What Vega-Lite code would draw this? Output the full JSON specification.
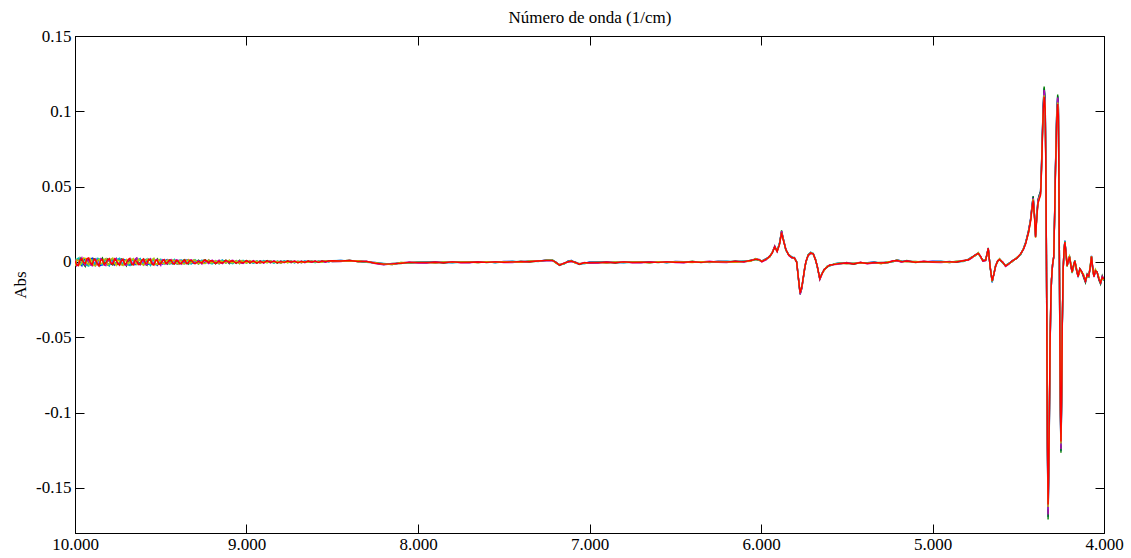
{
"$schema": "https://vega.github.io/schema/vega-lite/v6.json",
"width": 1029, "height": 497,
"autosize": "none",
"padding": {"left": 75, "top": 36, "right": 27, "bottom": 25},
"background": "white",
"config": {
  "view": {"stroke": "black", "strokeWidth": 1},
  "axis": {"grid": false, "labelFont": "Liberation Serif", "labelFontSize": 17, "labelColor": "black", "titleFont": "Liberation Serif", "titleFontSize": 17, "titleFontWeight": "normal", "titleColor": "black", "domainColor": "black", "tickColor": "black", "tickSize": -9, "labelOverlap": false, "labelFlush": false}
},
"data": {"values": [
{"x":10000,"a":-0.0020,"b":0.0024,"c":-0.0008,"d":0.0016,"e":-0.0028,"f":0.0006},
{"x":9990,"a":0.0006,"b":-0.0012,"c":0.0018,"d":-0.0026,"e":0.0014,"f":-0.0020},
{"x":9980,"a":0.0018,"b":-0.0022,"c":0.0026,"d":-0.0014,"e":0.0010,"f":-0.0024},
{"x":9970,"a":-0.0012,"b":0.0026,"c":-0.0006,"d":0.0010,"e":-0.0020,"f":0.0014},
{"x":9960,"a":-0.0026,"b":0.0008,"c":-0.0018,"d":0.0028,"e":-0.0004,"f":0.0020},
{"x":9950,"a":0.0020,"b":-0.0016,"c":0.0012,"d":-0.0008,"e":0.0026,"f":-0.0004},
{"x":9940,"a":0.0012,"b":-0.0030,"c":0.0004,"d":-0.0022,"e":0.0024,"f":-0.0010},
{"x":9930,"a":-0.0018,"b":0.0006,"c":-0.0024,"d":0.0018,"e":-0.0010,"f":0.0022},
{"x":9920,"a":-0.0008,"b":0.0020,"c":-0.0028,"d":0.0006,"e":-0.0018,"f":0.0026},
{"x":9910,"a":0.0014,"b":-0.0018,"c":0.0008,"d":-0.0016,"e":0.0020,"f":-0.0006},
{"x":9900,"a":0.0024,"b":-0.0006,"c":0.0016,"d":-0.0026,"e":0.0002,"f":-0.0018},
{"x":9890,"a":-0.0004,"b":0.0022,"c":-0.0014,"d":0.0012,"e":-0.0024,"f":0.0016},
{"x":9880,"a":-0.0022,"b":0.0014,"c":-0.0004,"d":0.0020,"e":-0.0026,"f":0.0012},
{"x":9870,"a":0.0016,"b":-0.0010,"c":0.0024,"d":-0.0018,"e":0.0008,"f":-0.0014},
{"x":9860,"a":0.0006,"b":-0.0024,"c":0.0022,"d":-0.0008,"e":0.0018,"f":-0.0028},
{"x":9850,"a":-0.0024,"b":0.0012,"c":-0.0010,"d":0.0022,"e":-0.0014,"f":0.0010},
{"x":9840,"a":-0.0016,"b":0.0026,"c":-0.0020,"d":0.0012,"e":-0.0006,"f":0.0016},
{"x":9830,"a":0.0010,"b":-0.0006,"c":0.0014,"d":-0.0020,"e":0.0016,"f":-0.0018},
{"x":9820,"a":0.0020,"b":-0.0012,"c":0.0010,"d":-0.0024,"e":0.0022,"f":-0.0004},
{"x":9810,"a":-0.0008,"b":0.0018,"c":-0.0022,"d":0.0004,"e":-0.0020,"f":0.0014},
{"x":9800,"a":-0.0024,"b":0.0004,"c":-0.0026,"d":0.0018,"e":-0.0012,"f":0.0022},
{"x":9790,"a":0.0016,"b":-0.0014,"c":0.0006,"d":-0.0012,"e":0.0018,"f":-0.0008},
{"x":9780,"a":0.0010,"b":-0.0020,"c":0.0018,"d":-0.0004,"e":0.0026,"f":-0.0016},
{"x":9770,"a":-0.0020,"b":0.0008,"c":-0.0004,"d":0.0016,"e":-0.0008,"f":0.0020},
{"x":9760,"a":-0.0006,"b":0.0022,"c":-0.0012,"d":0.0024,"e":-0.0022,"f":0.0008},
{"x":9750,"a":0.0012,"b":-0.0016,"c":0.0020,"d":-0.0006,"e":0.0012,"f":-0.0012},
{"x":9740,"a":0.0022,"b":-0.0008,"c":0.0024,"d":-0.0018,"e":0.0006,"f":-0.0022},
{"x":9730,"a":-0.0010,"b":0.0020,"c":-0.0016,"d":0.0014,"e":-0.0018,"f":0.0006},
{"x":9720,"a":-0.0018,"b":0.0016,"c":-0.0006,"d":0.0008,"e":-0.0024,"f":0.0018},
{"x":9710,"a":0.0014,"b":-0.0008,"c":0.0010,"d":-0.0020,"e":0.0004,"f":-0.0016},
{"x":9700,"a":0.0008,"b":-0.0026,"c":0.0014,"d":-0.0022,"e":0.0016,"f":-0.0008},
{"x":9690,"a":-0.0016,"b":0.0004,"c":-0.0020,"d":0.0010,"e":-0.0012,"f":0.0016},
{"x":9680,"a":-0.0024,"b":0.0010,"c":-0.0022,"d":0.0020,"e":-0.0002,"f":0.0024},
{"x":9670,"a":0.0006,"b":-0.0020,"c":0.0016,"d":-0.0004,"e":0.0014,"f":-0.0012},
{"x":9660,"a":0.0016,"b":-0.0016,"c":0.0006,"d":-0.0010,"e":0.0022,"f":-0.0020},
{"x":9650,"a":-0.0018,"b":0.0014,"c":-0.0008,"d":0.0018,"e":-0.0006,"f":0.0010},
{"x":9640,"a":-0.0010,"b":0.0024,"c":-0.0018,"d":0.0026,"e":-0.0016,"f":0.0004},
{"x":9630,"a":0.0012,"b":-0.0010,"c":0.0014,"d":-0.0012,"e":0.0018,"f":-0.0018},
{"x":9620,"a":0.0020,"b":-0.0004,"c":0.0022,"d":-0.0020,"e":0.0008,"f":-0.0014},
{"x":9610,"a":-0.0006,"b":0.0012,"c":-0.0014,"d":0.0008,"e":-0.0016,"f":0.0012},
{"x":9600,"a":-0.0020,"b":0.0018,"c":-0.0008,"d":0.0006,"e":-0.0022,"f":0.0020},
{"x":9590,"a":0.0014,"b":-0.0012,"c":0.0006,"d":-0.0018,"e":0.0010,"f":-0.0010},
{"x":9580,"a":0.0004,"b":-0.0022,"c":0.0020,"d":-0.0016,"e":0.0018,"f":-0.0006},
{"x":9570,"a":-0.0016,"b":0.0016,"c":-0.0010,"d":0.0012,"e":-0.0008,"f":0.0018},
{"x":9560,"a":-0.0014,"b":0.0008,"c":-0.0024,"d":0.0022,"e":-0.0010,"f":0.0016},
{"x":9550,"a":0.0008,"b":-0.0018,"c":0.0016,"d":-0.0010,"e":0.0014,"f":-0.0014},
{"x":9540,"a":0.0018,"b":-0.0014,"c":0.0008,"d":-0.0006,"e":0.0024,"f":-0.0022},
{"x":9530,"a":-0.0012,"b":0.0006,"c":-0.0018,"d":0.0014,"e":-0.0012,"f":0.0008},
{"x":9520,"a":-0.0022,"b":0.0020,"c":-0.0014,"d":0.0016,"e":-0.0018,"f":0.0010},
{"x":9510,"a":0.0010,"b":-0.0014,"c":0.0012,"d":-0.0008,"e":0.0016,"f":-0.0016},
{"x":9500,"a":0.0012,"b":-0.0006,"c":0.0018,"d":-0.0024,"e":0.0004,"f":-0.0012},
{"x":9490,"a":-0.0014,"b":0.0010,"c":-0.0006,"d":0.0014,"e":-0.0010,"f":0.0006},
{"x":9480,"a":-0.0006,"b":0.0014,"c":-0.0015,"d":0.0008,"e":-0.0012,"f":0.0015},
{"x":9470,"a":0.0012,"b":-0.0006,"c":0.0010,"d":-0.0014,"e":0.0004,"f":-0.0010},
{"x":9460,"a":0.0015,"b":-0.0015,"c":0.0003,"d":-0.0011,"e":0.0014,"f":-0.0003},
{"x":9450,"a":-0.0008,"b":0.0012,"c":-0.0014,"d":0.0006,"e":-0.0012,"f":0.0012},
{"x":9440,"a":-0.0012,"b":0.0005,"c":-0.0009,"d":0.0015,"e":-0.0005,"f":0.0011},
{"x":9430,"a":0.0010,"b":-0.0014,"c":0.0006,"d":-0.0008,"e":0.0012,"f":-0.0008},
{"x":9420,"a":0.0005,"b":-0.0012,"c":0.0016,"d":-0.0006,"e":0.0009,"f":-0.0014},
{"x":9410,"a":-0.0012,"b":0.0004,"c":-0.0008,"d":0.0014,"e":-0.0006,"f":0.0010},
{"x":9400,"a":-0.0015,"b":0.0009,"c":-0.0005,"d":0.0012,"e":-0.0015,"f":0.0005},
{"x":9390,"a":0.0008,"b":-0.0012,"c":0.0012,"d":-0.0004,"e":0.0010,"f":-0.0012},
{"x":9380,"a":0.0011,"b":-0.0008,"c":0.0012,"d":-0.0015,"e":0.0006,"f":-0.0009},
{"x":9370,"a":-0.0010,"b":0.0010,"c":-0.0006,"d":0.0008,"e":-0.0014,"f":0.0004},
{"x":9360,"a":-0.0003,"b":0.0015,"c":-0.0014,"d":0.0003,"e":-0.0011,"f":0.0014},
{"x":9350,"a":0.0012,"b":-0.0004,"c":0.0008,"d":-0.0012,"e":0.0006,"f":-0.0010},
{"x":9340,"a":0.0014,"b":-0.0014,"c":0.0006,"d":-0.0009,"e":0.0015,"f":-0.0006},
{"x":9330,"a":-0.0006,"b":0.0008,"c":-0.0012,"d":0.0010,"e":-0.0008,"f":0.0012},
{"x":9320,"a":-0.0011,"b":0.0003,"c":-0.0012,"d":0.0014,"e":-0.0003,"f":0.0009},
{"x":9310,"a":0.0010,"b":-0.0010,"c":0.0004,"d":-0.0008,"e":0.0012,"f":-0.0004},
{"x":9300,"a":0.0006,"b":-0.0011,"c":0.0015,"d":-0.0005,"e":0.0011,"f":-0.0012},
{"x":9280,"a":-0.0014,"b":0.0012,"c":-0.0003,"d":0.0009,"e":-0.0014,"f":0.0003},
{"x":9260,"a":0.0009,"b":-0.0005,"c":0.0011,"d":-0.0014,"e":0.0005,"f":-0.0008},
{"x":9250,"a":-0.0006,"b":0.0010,"c":-0.0008,"d":0.0006,"e":-0.0010,"f":0.0010},
{"x":9240,"a":-0.0005,"b":0.0014,"c":-0.0011,"d":0.0005,"e":-0.0009,"f":0.0012},
{"x":9220,"a":0.0012,"b":-0.0009,"c":0.0005,"d":-0.0011,"e":0.0014,"f":-0.0005},
{"x":9210,"a":-0.0004,"b":0.0008,"c":-0.0010,"d":0.0004,"e":-0.0006,"f":0.0008},
{"x":9200,"a":-0.0009,"b":0.0006,"c":-0.0014,"d":0.0012,"e":-0.0006,"f":0.0008},
{"x":9180,"a":0.0005,"b":-0.0012,"c":0.0009,"d":-0.0003,"e":0.0009,"f":-0.0011},
{"x":9160,"a":-0.0012,"b":0.0009,"c":-0.0005,"d":0.0011,"e":-0.0012,"f":0.0005},
{"x":9150,"a":0.0006,"b":-0.0006,"c":0.0008,"d":-0.0004,"e":0.0006,"f":-0.0006},
{"x":9140,"a":0.0011,"b":-0.0003,"c":0.0012,"d":-0.0012,"e":0.0003,"f":-0.0008},
{"x":9120,"a":-0.0003,"b":0.0012,"c":-0.0009,"d":0.0006,"e":-0.0009,"f":0.0011},
{"x":9100,"a":0.0009,"b":-0.0011,"c":0.0003,"d":-0.0008,"e":0.0012,"f":-0.0003},
{"x":9090,"a":-0.0006,"b":0.0004,"c":-0.0008,"d":0.0008,"e":-0.0004,"f":0.0006},
{"x":9080,"a":-0.0009,"b":0.0005,"c":-0.0012,"d":0.0011,"e":-0.0005,"f":0.0008},
{"x":9060,"a":0.0006,"b":-0.0009,"c":0.0009,"d":-0.0005,"e":0.0008,"f":-0.0009},
{"x":9040,"a":-0.0011,"b":0.0011,"c":-0.0003,"d":0.0008,"e":-0.0011,"f":0.0003},
{"x":9030,"a":0.0004,"b":-0.0006,"c":0.0006,"d":-0.0006,"e":0.0008,"f":-0.0004},
{"x":9020,"a":0.0008,"b":-0.0005,"c":0.0011,"d":-0.0011,"e":0.0003,"f":-0.0006},
{"x":9000,"a":-0.0003,"b":0.0009,"c":-0.0008,"d":0.0003,"e":-0.0008,"f":0.0009},
{"x":8980,"a":0.0008,"b":-0.0008,"c":0.0003,"d":-0.0006,"e":0.0009,"f":-0.0003},
{"x":8960,"a":-0.0008,"b":0.0003,"c":-0.0009,"d":0.0009,"e":-0.0003,"f":0.0006},
{"x":8940,"a":0.0005,"b":-0.0009,"c":0.0008,"d":-0.0003,"e":0.0006,"f":-0.0008},
{"x":8920,"a":-0.0009,"b":0.0008,"c":-0.0003,"d":0.0006,"e":-0.0009,"f":0.0002},
{"x":8900,"a":0.0006,"b":-0.0003,"c":0.0009,"d":-0.0008,"e":0.0002,"f":-0.0005},
{"x":8880,"a":-0.0002,"b":0.0009,"c":-0.0006,"d":0.0003,"e":-0.0006,"f":0.0008},
{"x":8860,"a":0.0008,"b":-0.0006,"c":0.0002,"d":-0.0005,"e":0.0008,"f":-0.0002},
{"x":8840,"a":-0.0006,"b":0.0003,"c":-0.0008,"d":0.0008,"e":-0.0003,"f":0.0005},
{"x":8820,"a":0.0003,"b":-0.0008,"c":0.0006,"d":-0.0002,"e":0.0005,"f":-0.0006},
{"x":8800,"a":-0.0008,"b":0.0006,"c":-0.0002,"d":0.0005,"e":-0.0008,"f":0.0002},
{"x":8780,"a":0.0005,"b":-0.0003,"c":0.0008,"d":-0.0006,"e":0.0002,"f":-0.0003},
{"x":8760,"a":0.0000,"b":0.0008,"c":-0.0005,"d":0.0003,"e":-0.0005,"f":0.0006},
{"x":8740,"a":0.0006,"b":-0.0005,"c":0.0003,"d":-0.0003,"e":0.0006,"f":0.0000},
{"x":8720,"a":-0.0005,"b":0.0003,"c":-0.0006,"d":0.0006,"e":-0.0002,"f":0.0005},
{"x":8700,"a":0.0003,"b":-0.0006,"c":0.0005,"d":0.0000,"e":0.0005,"f":-0.0005},
{"x":8680,"a":-0.0006,"b":0.0005,"c":0.0000,"d":0.0005,"e":-0.0006,"f":0.0003},
{"x":8660,"a":0.0005,"b":-0.0002,"c":0.0006,"d":-0.0005,"e":0.0002,"f":-0.0002},
{"x":8640,"a":0.0000,"b":0.0006,"c":-0.0003,"d":0.0003,"e":-0.0003,"f":0.0006},
{"x":8620,"a":0.0006,"b":-0.0003,"c":0.0005,"d":-0.0002,"e":0.0006,"f":0.0000},
{"x":8600,"a":-0.0003,"b":0.0005,"c":-0.0005,"d":0.0006,"e":0.0000,"f":0.0005},
{"x":8580,"a":0.0005,"b":-0.0003,"c":0.0006,"d":0.0000,"e":0.0005,"f":-0.0003},
{"x":8560,"a":0.0002,"b":0.0006,"c":-0.0002,"d":0.0005,"e":-0.0003,"f":0.0006},
{"x":8540,"a":0.0006,"b":0.0000,"c":0.0005,"d":-0.0002,"e":0.0008,"f":0.0002},
{"x":8520,"a":0.0002,"b":0.0008,"c":0.0000,"d":0.0006,"e":0.0002,"f":0.0006},
{"x":8500,"a":0.0006,"b":0.0003,"c":0.0008,"d":0.0002,"e":0.0005,"f":0.0008},
{"x":8450,"a":0.0009,"b":0.0004,"c":0.0010,"d":0.0002,"e":0.0007,"f":0.0006},
{"x":8400,"a":0.0005,"b":0.0012,"c":0.0007,"d":0.0010,"e":0.0004,"f":0.0009},
{"x":8350,"a":0.0006,"b":0.0001,"c":0.0008,"d":0.0005,"e":0.0008,"f":0.0003},
{"x":8300,"a":-0.0001,"b":0.0003,"c":-0.0003,"d":0.0005,"e":0.0000,"f":0.0003},
{"x":8250,"a":-0.0004,"b":-0.0008,"c":-0.0007,"d":-0.0011,"e":-0.0006,"f":-0.0009},
{"x":8200,"a":-0.0012,"b":-0.0017,"c":-0.0011,"d":-0.0019,"e":-0.0014,"f":-0.0015},
{"x":8150,"a":-0.0017,"b":-0.0010,"c":-0.0015,"d":-0.0012,"e":-0.0018,"f":-0.0013},
{"x":8100,"a":-0.0006,"b":-0.0011,"c":-0.0004,"d":-0.0007,"e":-0.0004,"f":-0.0009},
{"x":8050,"a":-0.0007,"b":-0.0003,"c":-0.0009,"d":-0.0001,"e":-0.0006,"f":-0.0003},
{"x":8000,"a":0.0000,"b":-0.0004,"c":-0.0003,"d":-0.0007,"e":-0.0002,"f":-0.0005},
{"x":7950,"a":-0.0001,"b":-0.0006,"c":0.0000,"d":-0.0008,"e":-0.0003,"f":-0.0004},
{"x":7900,"a":-0.0006,"b":0.0001,"c":-0.0004,"d":-0.0001,"e":-0.0007,"f":-0.0002},
{"x":7850,"a":-0.0003,"b":-0.0008,"c":-0.0001,"d":-0.0004,"e":-0.0001,"f":-0.0006},
{"x":7800,"a":-0.0004,"b":0.0000,"c":-0.0006,"d":0.0002,"e":-0.0003,"f":0.0000},
{"x":7750,"a":0.0001,"b":-0.0003,"c":-0.0002,"d":-0.0006,"e":-0.0001,"f":-0.0004},
{"x":7700,"a":0.0001,"b":-0.0004,"c":0.0002,"d":-0.0006,"e":-0.0001,"f":-0.0002},
{"x":7650,"a":-0.0005,"b":0.0002,"c":-0.0003,"d":0.0000,"e":-0.0006,"f":-0.0001},
{"x":7600,"a":0.0000,"b":-0.0005,"c":0.0002,"d":-0.0001,"e":0.0002,"f":-0.0003},
{"x":7550,"a":-0.0004,"b":0.0000,"c":-0.0006,"d":0.0002,"e":-0.0003,"f":0.0000},
{"x":7500,"a":0.0003,"b":-0.0001,"c":0.0000,"d":-0.0004,"e":0.0001,"f":-0.0002},
{"x":7450,"a":0.0003,"b":-0.0002,"c":0.0004,"d":-0.0004,"e":0.0001,"f":0.0000},
{"x":7400,"a":-0.0002,"b":0.0005,"c":0.0000,"d":0.0003,"e":-0.0003,"f":0.0002},
{"x":7350,"a":0.0004,"b":-0.0001,"c":0.0006,"d":0.0003,"e":0.0006,"f":0.0001},
{"x":7300,"a":0.0004,"b":0.0006,"c":0.0002,"d":0.0008,"e":0.0005,"f":0.0006},
{"x":7250,"a":0.0013,"b":0.0010,"c":0.0011,"d":0.0008,"e":0.0012,"f":0.0010},
{"x":7215,"a":0.0012,"b":0.0009,"c":0.0013,"d":0.0007,"e":0.0011,"f":0.0010},
{"x":7195,"a":-0.0008,"b":-0.0001,"c":-0.0006,"d":-0.0003,"e":-0.0009,"f":-0.0004},
{"x":7175,"a":-0.0019,"b":-0.0024,"c":-0.0017,"d":-0.0020,"e":-0.0017,"f":-0.0022},
{"x":7150,"a":-0.0014,"b":-0.0010,"c":-0.0016,"d":-0.0008,"e":-0.0013,"f":-0.0010},
{"x":7125,"a":0.0006,"b":0.0002,"c":0.0003,"d":-0.0001,"e":0.0004,"f":0.0001},
{"x":7105,"a":0.0009,"b":0.0004,"c":0.0010,"d":0.0002,"e":0.0007,"f":0.0006},
{"x":7080,"a":-0.0009,"b":-0.0002,"c":-0.0007,"d":-0.0004,"e":-0.0010,"f":-0.0005},
{"x":7060,"a":-0.0012,"b":-0.0017,"c":-0.0010,"d":-0.0013,"e":-0.0010,"f":-0.0015},
{"x":7030,"a":-0.0010,"b":-0.0006,"c":-0.0012,"d":-0.0004,"e":-0.0009,"f":-0.0006},
{"x":7000,"a":-0.0001,"b":-0.0005,"c":-0.0004,"d":-0.0008,"e":-0.0003,"f":-0.0006},
{"x":6950,"a":-0.0001,"b":-0.0006,"c":0.0000,"d":-0.0008,"e":-0.0003,"f":-0.0004},
{"x":6900,"a":-0.0006,"b":0.0001,"c":-0.0004,"d":-0.0001,"e":-0.0007,"f":-0.0002},
{"x":6850,"a":-0.0003,"b":-0.0008,"c":-0.0001,"d":-0.0004,"e":-0.0001,"f":-0.0006},
{"x":6800,"a":-0.0004,"b":0.0000,"c":-0.0006,"d":0.0002,"e":-0.0003,"f":0.0000},
{"x":6750,"a":0.0001,"b":-0.0003,"c":-0.0002,"d":-0.0006,"e":-0.0001,"f":-0.0004},
{"x":6700,"a":0.0001,"b":-0.0004,"c":0.0002,"d":-0.0006,"e":-0.0001,"f":-0.0002},
{"x":6650,"a":-0.0006,"b":0.0001,"c":-0.0004,"d":-0.0001,"e":-0.0007,"f":-0.0002},
{"x":6600,"a":0.0000,"b":-0.0005,"c":0.0002,"d":-0.0001,"e":0.0002,"f":-0.0003},
{"x":6550,"a":-0.0004,"b":0.0000,"c":-0.0006,"d":0.0002,"e":-0.0003,"f":0.0000},
{"x":6500,"a":0.0003,"b":-0.0001,"c":0.0000,"d":-0.0004,"e":0.0001,"f":-0.0002},
{"x":6450,"a":0.0001,"b":-0.0004,"c":0.0002,"d":-0.0006,"e":-0.0001,"f":-0.0002},
{"x":6400,"a":-0.0003,"b":0.0004,"c":-0.0001,"d":0.0002,"e":-0.0004,"f":0.0001},
{"x":6350,"a":0.0000,"b":-0.0005,"c":0.0002,"d":-0.0001,"e":0.0002,"f":-0.0003},
{"x":6300,"a":-0.0002,"b":0.0002,"c":-0.0004,"d":0.0004,"e":-0.0001,"f":0.0002},
{"x":6250,"a":0.0005,"b":0.0001,"c":0.0002,"d":-0.0002,"e":0.0003,"f":0.0000},
{"x":6200,"a":0.0003,"b":-0.0002,"c":0.0004,"d":-0.0004,"e":0.0001,"f":0.0000},
{"x":6150,"a":-0.0001,"b":0.0006,"c":0.0001,"d":0.0004,"e":-0.0002,"f":0.0003},
{"x":6100,"a":0.0005,"b":0.0000,"c":0.0006,"d":-0.0002,"e":0.0003,"f":0.0002},
{"x":6060,"a":0.0005,"b":0.0012,"c":0.0007,"d":0.0010,"e":0.0004,"f":0.0009},
{"x":6030,"a":0.0021,"b":0.0016,"c":0.0023,"d":0.0020,"e":0.0023,"f":0.0018},
{"x":6010,"a":0.0010,"b":0.0014,"c":0.0008,"d":0.0016,"e":0.0011,"f":0.0014},
{"x":5995,"a":0.0007,"b":0.0003,"c":0.0004,"d":0.0000,"e":0.0005,"f":0.0002},
{"x":5970,"a":0.0021,"b":0.0016,"c":0.0022,"d":0.0014,"e":0.0019,"f":0.0018},
{"x":5950,"a":0.0032,"b":0.0039,"c":0.0034,"d":0.0037,"e":0.0031,"f":0.0036},
{"x":5935,"a":0.0061,"b":0.0056,"c":0.0063,"d":0.0060,"e":0.0063,"f":0.0058},
{"x":5920,"a":0.0100,"b":0.0105,"c":0.0095,"d":0.0105,"e":0.0097,"f":0.0099},
{"x":5906,"a":0.0074,"b":0.0070,"c":0.0071,"d":0.0067,"e":0.0072,"f":0.0069},
{"x":5892,"a":0.0125,"b":0.0122,"c":0.0123,"d":0.0117,"e":0.0119,"f":0.0116},
{"x":5880,"a":0.0201,"b":0.0210,"c":0.0197,"d":0.0204,"e":0.0192,"f":0.0195},
{"x":5870,"a":0.0154,"b":0.0151,"c":0.0152,"d":0.0152,"e":0.0150,"f":0.0144},
{"x":5855,"a":0.0078,"b":0.0082,"c":0.0076,"d":0.0084,"e":0.0079,"f":0.0082},
{"x":5838,"a":0.0049,"b":0.0045,"c":0.0046,"d":0.0042,"e":0.0047,"f":0.0044},
{"x":5820,"a":0.0033,"b":0.0028,"c":0.0034,"d":0.0026,"e":0.0031,"f":0.0030},
{"x":5805,"a":0.0022,"b":0.0029,"c":0.0024,"d":0.0027,"e":0.0021,"f":0.0026},
{"x":5792,"a":0.0001,"b":-0.0004,"c":0.0003,"d":0.0000,"e":0.0003,"f":-0.0002},
{"x":5783,"a":-0.0099,"b":-0.0095,"c":-0.0101,"d":-0.0093,"e":-0.0098,"f":-0.0095},
{"x":5772,"a":-0.0210,"b":-0.0216,"c":-0.0207,"d":-0.0215,"e":-0.0204,"f":-0.0205},
{"x":5762,"a":-0.0170,"b":-0.0177,"c":-0.0164,"d":-0.0176,"e":-0.0166,"f":-0.0165},
{"x":5754,"a":-0.0115,"b":-0.0109,"c":-0.0110,"d":-0.0109,"e":-0.0112,"f":-0.0106},
{"x":5745,"a":-0.0039,"b":-0.0044,"c":-0.0037,"d":-0.0040,"e":-0.0037,"f":-0.0042},
{"x":5738,"a":-0.0002,"b":0.0002,"c":-0.0004,"d":0.0004,"e":-0.0001,"f":0.0002},
{"x":5725,"a":0.0049,"b":0.0045,"c":0.0046,"d":0.0042,"e":0.0047,"f":0.0044},
{"x":5710,"a":0.0063,"b":0.0058,"c":0.0064,"d":0.0056,"e":0.0061,"f":0.0060},
{"x":5695,"a":0.0049,"b":0.0056,"c":0.0051,"d":0.0054,"e":0.0048,"f":0.0053},
{"x":5682,"a":0.0016,"b":0.0011,"c":0.0018,"d":0.0015,"e":0.0018,"f":0.0013},
{"x":5672,"a":-0.0032,"b":-0.0028,"c":-0.0034,"d":-0.0026,"e":-0.0031,"f":-0.0028},
{"x":5657,"a":-0.0111,"b":-0.0116,"c":-0.0111,"d":-0.0117,"e":-0.0109,"f":-0.0111},
{"x":5645,"a":-0.0077,"b":-0.0082,"c":-0.0076,"d":-0.0084,"e":-0.0079,"f":-0.0080},
{"x":5632,"a":-0.0056,"b":-0.0049,"c":-0.0054,"d":-0.0051,"e":-0.0057,"f":-0.0052},
{"x":5615,"a":-0.0031,"b":-0.0036,"c":-0.0029,"d":-0.0032,"e":-0.0029,"f":-0.0034},
{"x":5600,"a":-0.0026,"b":-0.0022,"c":-0.0028,"d":-0.0020,"e":-0.0025,"f":-0.0022},
{"x":5570,"a":-0.0011,"b":-0.0015,"c":-0.0014,"d":-0.0018,"e":-0.0013,"f":-0.0016},
{"x":5540,"a":-0.0007,"b":-0.0012,"c":-0.0006,"d":-0.0014,"e":-0.0009,"f":-0.0010},
{"x":5500,"a":-0.0011,"b":-0.0004,"c":-0.0009,"d":-0.0006,"e":-0.0012,"f":-0.0007},
{"x":5460,"a":-0.0011,"b":-0.0016,"c":-0.0009,"d":-0.0012,"e":-0.0009,"f":-0.0014},
{"x":5420,"a":-0.0008,"b":-0.0004,"c":-0.0010,"d":-0.0002,"e":-0.0007,"f":-0.0004},
{"x":5380,"a":-0.0006,"b":-0.0010,"c":-0.0009,"d":-0.0013,"e":-0.0008,"f":-0.0011},
{"x":5340,"a":-0.0001,"b":-0.0006,"c":0.0000,"d":-0.0008,"e":-0.0003,"f":-0.0004},
{"x":5300,"a":-0.0011,"b":-0.0004,"c":-0.0009,"d":-0.0006,"e":-0.0012,"f":-0.0007},
{"x":5260,"a":-0.0001,"b":-0.0006,"c":0.0001,"d":-0.0002,"e":0.0001,"f":-0.0004},
{"x":5230,"a":0.0002,"b":0.0006,"c":0.0000,"d":0.0008,"e":0.0003,"f":0.0006},
{"x":5207,"a":0.0014,"b":0.0010,"c":0.0011,"d":0.0007,"e":0.0012,"f":0.0009},
{"x":5180,"a":0.0005,"b":0.0000,"c":0.0006,"d":-0.0002,"e":0.0003,"f":0.0002},
{"x":5150,"a":0.0002,"b":0.0009,"c":0.0004,"d":0.0007,"e":0.0001,"f":0.0006},
{"x":5100,"a":0.0001,"b":-0.0004,"c":0.0003,"d":0.0000,"e":0.0003,"f":-0.0002},
{"x":5050,"a":-0.0001,"b":0.0003,"c":-0.0003,"d":0.0005,"e":0.0000,"f":0.0003},
{"x":5000,"a":0.0004,"b":0.0000,"c":0.0001,"d":-0.0003,"e":0.0002,"f":-0.0001},
{"x":4950,"a":0.0003,"b":-0.0002,"c":0.0004,"d":-0.0004,"e":0.0001,"f":0.0000},
{"x":4900,"a":-0.0004,"b":0.0003,"c":-0.0002,"d":0.0001,"e":-0.0005,"f":0.0000},
{"x":4860,"a":0.0002,"b":-0.0003,"c":0.0004,"d":0.0001,"e":0.0004,"f":-0.0001},
{"x":4820,"a":0.0004,"b":0.0008,"c":0.0002,"d":0.0010,"e":0.0005,"f":0.0008},
{"x":4790,"a":0.0019,"b":0.0015,"c":0.0016,"d":0.0012,"e":0.0017,"f":0.0014},
{"x":4770,"a":0.0033,"b":0.0028,"c":0.0034,"d":0.0026,"e":0.0031,"f":0.0030},
{"x":4750,"a":0.0042,"b":0.0049,"c":0.0044,"d":0.0047,"e":0.0041,"f":0.0046},
{"x":4733,"a":0.0059,"b":0.0054,"c":0.0061,"d":0.0058,"e":0.0061,"f":0.0056},
{"x":4720,"a":0.0033,"b":0.0037,"c":0.0031,"d":0.0039,"e":0.0034,"f":0.0037},
{"x":4706,"a":0.0011,"b":0.0007,"c":0.0008,"d":0.0004,"e":0.0009,"f":0.0006},
{"x":4690,"a":0.0015,"b":0.0010,"c":0.0016,"d":0.0008,"e":0.0013,"f":0.0012},
{"x":4675,"a":0.0086,"b":0.0093,"c":0.0088,"d":0.0091,"e":0.0085,"f":0.0090},
{"x":4663,"a":-0.0039,"b":-0.0044,"c":-0.0037,"d":-0.0040,"e":-0.0037,"f":-0.0042},
{"x":4652,"a":-0.0136,"b":-0.0133,"c":-0.0134,"d":-0.0128,"e":-0.0129,"f":-0.0125},
{"x":4642,"a":-0.0076,"b":-0.0080,"c":-0.0079,"d":-0.0083,"e":-0.0078,"f":-0.0081},
{"x":4632,"a":-0.0024,"b":-0.0029,"c":-0.0023,"d":-0.0031,"e":-0.0026,"f":-0.0027},
{"x":4620,"a":0.0002,"b":0.0009,"c":0.0004,"d":0.0007,"e":0.0001,"f":0.0006},
{"x":4609,"a":0.0019,"b":0.0014,"c":0.0021,"d":0.0018,"e":0.0021,"f":0.0016},
{"x":4590,"a":-0.0007,"b":-0.0003,"c":-0.0009,"d":-0.0001,"e":-0.0006,"f":-0.0003},
{"x":4574,"a":-0.0023,"b":-0.0027,"c":-0.0026,"d":-0.0030,"e":-0.0025,"f":-0.0028},
{"x":4555,"a":-0.0009,"b":-0.0014,"c":-0.0008,"d":-0.0016,"e":-0.0011,"f":-0.0012},
{"x":4535,"a":0.0002,"b":0.0009,"c":0.0004,"d":0.0007,"e":0.0001,"f":0.0006},
{"x":4510,"a":0.0026,"b":0.0021,"c":0.0028,"d":0.0025,"e":0.0028,"f":0.0023},
{"x":4486,"a":0.0049,"b":0.0053,"c":0.0047,"d":0.0055,"e":0.0050,"f":0.0053},
{"x":4470,"a":0.0089,"b":0.0085,"c":0.0086,"d":0.0082,"e":0.0087,"f":0.0084},
{"x":4457,"a":0.0130,"b":0.0126,"c":0.0127,"d":0.0121,"e":0.0123,"f":0.0120},
{"x":4440,"a":0.0201,"b":0.0210,"c":0.0197,"d":0.0204,"e":0.0192,"f":0.0195},
{"x":4428,"a":0.0286,"b":0.0283,"c":0.0279,"d":0.0282,"e":0.0276,"f":0.0269},
{"x":4420,"a":0.0365,"b":0.0373,"c":0.0352,"d":0.0368,"e":0.0352,"f":0.0351},
{"x":4413,"a":0.0436,"b":0.0436,"c":0.0420,"d":0.0424,"e":0.0417,"f":0.0409},
{"x":4405,"a":0.0309,"b":0.0307,"c":0.0301,"d":0.0299,"e":0.0295,"f":0.0291},
{"x":4399,"a":0.0168,"b":0.0177,"c":0.0165,"d":0.0172,"e":0.0161,"f":0.0164},
{"x":4392,"a":0.0307,"b":0.0305,"c":0.0300,"d":0.0303,"e":0.0297,"f":0.0289},
{"x":4385,"a":0.0406,"b":0.0414,"c":0.0392,"d":0.0408,"e":0.0391,"f":0.0390},
{"x":4375,"a":0.0453,"b":0.0453,"c":0.0437,"d":0.0441,"e":0.0433,"f":0.0426},
{"x":4370,"a":0.0468,"b":0.0468,"c":0.0455,"d":0.0457,"e":0.0448,"f":0.0442},
{"x":4365,"a":0.0612,"b":0.0618,"c":0.0594,"d":0.0606,"e":0.0588,"f":0.0582},
{"x":4361,"a":0.0781,"b":0.0789,"c":0.0758,"d":0.0774,"e":0.0751,"f":0.0743},
{"x":4355,"a":0.1020,"b":0.1030,"c":0.0990,"d":0.1010,"e":0.0980,"f":0.0970},
{"x":4349,"a":0.1153,"b":0.1164,"c":0.1119,"d":0.1141,"e":0.1107,"f":0.1096},
{"x":4343,"a":0.1071,"b":0.1082,"c":0.1040,"d":0.1061,"e":0.1029,"f":0.1019},
{"x":4338,"a":0.0510,"b":0.0515,"c":0.0495,"d":0.0505,"e":0.0490,"f":0.0485},
{"x":4334,"a":-0.0306,"b":-0.0309,"c":-0.0297,"d":-0.0303,"e":-0.0294,"f":-0.0291},
{"x":4330,"a":-0.1224,"b":-0.1236,"c":-0.1188,"d":-0.1212,"e":-0.1176,"f":-0.1164},
{"x":4326,"a":-0.1693,"b":-0.1710,"c":-0.1643,"d":-0.1677,"e":-0.1627,"f":-0.1610},
{"x":4320,"a":-0.1224,"b":-0.1236,"c":-0.1188,"d":-0.1212,"e":-0.1176,"f":-0.1164},
{"x":4315,"a":-0.0612,"b":-0.0618,"c":-0.0594,"d":-0.0606,"e":-0.0588,"f":-0.0582},
{"x":4310,"a":-0.0255,"b":-0.0258,"c":-0.0248,"d":-0.0253,"e":-0.0245,"f":-0.0243},
{"x":4306,"a":-0.0117,"b":-0.0118,"c":-0.0114,"d":-0.0116,"e":-0.0113,"f":-0.0112},
{"x":4300,"a":-0.0023,"b":-0.0016,"c":-0.0021,"d":-0.0018,"e":-0.0024,"f":-0.0019},
{"x":4293,"a":0.0037,"b":0.0032,"c":0.0039,"d":0.0036,"e":0.0039,"f":0.0034},
{"x":4288,"a":0.0306,"b":0.0309,"c":0.0297,"d":0.0303,"e":0.0294,"f":0.0291},
{"x":4283,"a":0.0622,"b":0.0628,"c":0.0604,"d":0.0616,"e":0.0598,"f":0.0592},
{"x":4276,"a":0.0969,"b":0.0979,"c":0.0941,"d":0.0960,"e":0.0931,"f":0.0922},
{"x":4270,"a":0.1102,"b":0.1112,"c":0.1069,"d":0.1091,"e":0.1058,"f":0.1048},
{"x":4266,"a":0.1020,"b":0.1030,"c":0.0990,"d":0.1010,"e":0.0980,"f":0.0970},
{"x":4262,"a":0.0408,"b":0.0412,"c":0.0396,"d":0.0404,"e":0.0392,"f":0.0388},
{"x":4258,"a":-0.0408,"b":-0.0412,"c":-0.0396,"d":-0.0404,"e":-0.0392,"f":-0.0388},
{"x":4254,"a":-0.1020,"b":-0.1030,"c":-0.0990,"d":-0.1010,"e":-0.0980,"f":-0.0970},
{"x":4251,"a":-0.1255,"b":-0.1267,"c":-0.1218,"d":-0.1242,"e":-0.1205,"f":-0.1193},
{"x":4247,"a":-0.0918,"b":-0.0927,"c":-0.0891,"d":-0.0909,"e":-0.0882,"f":-0.0873},
{"x":4243,"a":-0.0408,"b":-0.0412,"c":-0.0396,"d":-0.0404,"e":-0.0392,"f":-0.0388},
{"x":4238,"a":-0.0052,"b":-0.0048,"c":-0.0054,"d":-0.0046,"e":-0.0051,"f":-0.0048},
{"x":4233,"a":0.0084,"b":0.0080,"c":0.0081,"d":0.0077,"e":0.0082,"f":0.0079},
{"x":4228,"a":0.0141,"b":0.0137,"c":0.0138,"d":0.0132,"e":0.0133,"f":0.0131},
{"x":4222,"a":0.0060,"b":0.0072,"c":0.0055,"d":0.0066,"e":0.0050,"f":0.0062},
{"x":4215,"a":-0.0030,"b":-0.0023,"c":-0.0028,"d":-0.0025,"e":-0.0031,"f":-0.0026},
{"x":4208,"a":0.0010,"b":0.0002,"c":0.0014,"d":0.0006,"e":0.0018,"f":0.0008},
{"x":4201,"a":0.0037,"b":0.0032,"c":0.0039,"d":0.0036,"e":0.0039,"f":0.0034},
{"x":4193,"a":-0.0020,"b":-0.0030,"c":-0.0014,"d":-0.0026,"e":-0.0010,"f":-0.0022},
{"x":4186,"a":-0.0072,"b":-0.0068,"c":-0.0074,"d":-0.0066,"e":-0.0071,"f":-0.0068},
{"x":4178,"a":-0.0030,"b":-0.0022,"c":-0.0036,"d":-0.0028,"e":-0.0040,"f":-0.0026},
{"x":4170,"a":0.0011,"b":0.0007,"c":0.0008,"d":0.0004,"e":0.0009,"f":0.0006},
{"x":4160,"a":-0.0052,"b":-0.0060,"c":-0.0046,"d":-0.0056,"e":-0.0044,"f":-0.0050},
{"x":4151,"a":-0.0094,"b":-0.0099,"c":-0.0093,"d":-0.0101,"e":-0.0096,"f":-0.0097},
{"x":4141,"a":-0.0050,"b":-0.0044,"c":-0.0056,"d":-0.0048,"e":-0.0060,"f":-0.0046},
{"x":4131,"a":-0.0067,"b":-0.0060,"c":-0.0065,"d":-0.0062,"e":-0.0068,"f":-0.0063},
{"x":4120,"a":-0.0090,"b":-0.0100,"c":-0.0084,"d":-0.0094,"e":-0.0080,"f":-0.0088},
{"x":4108,"a":-0.0132,"b":-0.0138,"c":-0.0126,"d":-0.0131,"e":-0.0124,"f":-0.0128},
{"x":4098,"a":-0.0088,"b":-0.0080,"c":-0.0094,"d":-0.0084,"e":-0.0098,"f":-0.0086},
{"x":4089,"a":-0.0099,"b":-0.0095,"c":-0.0101,"d":-0.0093,"e":-0.0098,"f":-0.0095},
{"x":4080,"a":-0.0030,"b":-0.0040,"c":-0.0024,"d":-0.0036,"e":-0.0020,"f":-0.0032},
{"x":4073,"a":0.0040,"b":0.0036,"c":0.0037,"d":0.0033,"e":0.0038,"f":0.0035},
{"x":4066,"a":-0.0040,"b":-0.0032,"c":-0.0046,"d":-0.0036,"e":-0.0050,"f":-0.0038},
{"x":4059,"a":-0.0094,"b":-0.0099,"c":-0.0093,"d":-0.0101,"e":-0.0096,"f":-0.0097},
{"x":4050,"a":-0.0060,"b":-0.0068,"c":-0.0054,"d":-0.0064,"e":-0.0050,"f":-0.0058},
{"x":4040,"a":-0.0073,"b":-0.0066,"c":-0.0071,"d":-0.0068,"e":-0.0074,"f":-0.0069},
{"x":4030,"a":-0.0110,"b":-0.0120,"c":-0.0104,"d":-0.0116,"e":-0.0100,"f":-0.0112},
{"x":4020,"a":-0.0142,"b":-0.0148,"c":-0.0136,"d":-0.0141,"e":-0.0134,"f":-0.0138},
{"x":4010,"a":-0.0100,"b":-0.0092,"c":-0.0108,"d":-0.0096,"e":-0.0112,"f":-0.0102},
{"x":4000,"a":-0.0124,"b":-0.0122,"c":-0.0123,"d":-0.0117,"e":-0.0119,"f":-0.0114}
]},
"transform": [{"fold": ["a","b","c","d","e","f"], "as": ["serie","abs"]}],
"layer": [
  {
    "mark": {"type": "line", "strokeWidth": 1.4, "clip": true},
    "encoding": {
      "x": {"field": "x", "type": "quantitative",
        "scale": {"domain": [4000, 10000], "reverse": true, "nice": false, "zero": false},
        "axis": {"orient": "bottom", "values": [4000,5000,6000,7000,8000,9000,10000], "labelExpr": "replace(format(datum.value, ','), ',', '.')", "title": null, "labelPadding": 12}},
      "y": {"field": "abs", "type": "quantitative",
        "scale": {"domain": [-0.18, 0.15], "nice": false, "zero": false},
        "axis": {"orient": "left", "values": [-0.15,-0.1,-0.05,0,0.05,0.1,0.15], "labelExpr": "'' + datum.value", "title": "Abs", "labelPadding": 13, "titlePadding": 6}},
      "color": {"field": "serie", "type": "nominal",
        "scale": {"domain": ["a","b","c","d","e","f"], "range": ["#0000ff","#008000","#00bfbf","#bf00bf","#bfbf00","#ff0000"]},
        "legend": null}
    }
  },
  {
    "mark": {"type": "line", "opacity": 0},
    "encoding": {
      "x": {"field": "x", "type": "quantitative",
        "scale": {"domain": [4000, 10000], "reverse": true, "nice": false, "zero": false},
        "axis": {"orient": "top", "values": [4000,5000,6000,7000,8000,9000,10000], "labels": false, "title": "Número de onda (1/cm)", "titlePadding": 9}},
      "y": {"field": "abs", "type": "quantitative",
        "scale": {"domain": [-0.18, 0.15], "nice": false, "zero": false},
        "axis": {"orient": "right", "values": [-0.15,-0.1,-0.05,0,0.05,0.1,0.15], "labels": false, "title": null}},
      "detail": {"field": "serie", "type": "nominal"}
    }
  }
],
"resolve": {"axis": {"x": "independent", "y": "independent"}}
}
